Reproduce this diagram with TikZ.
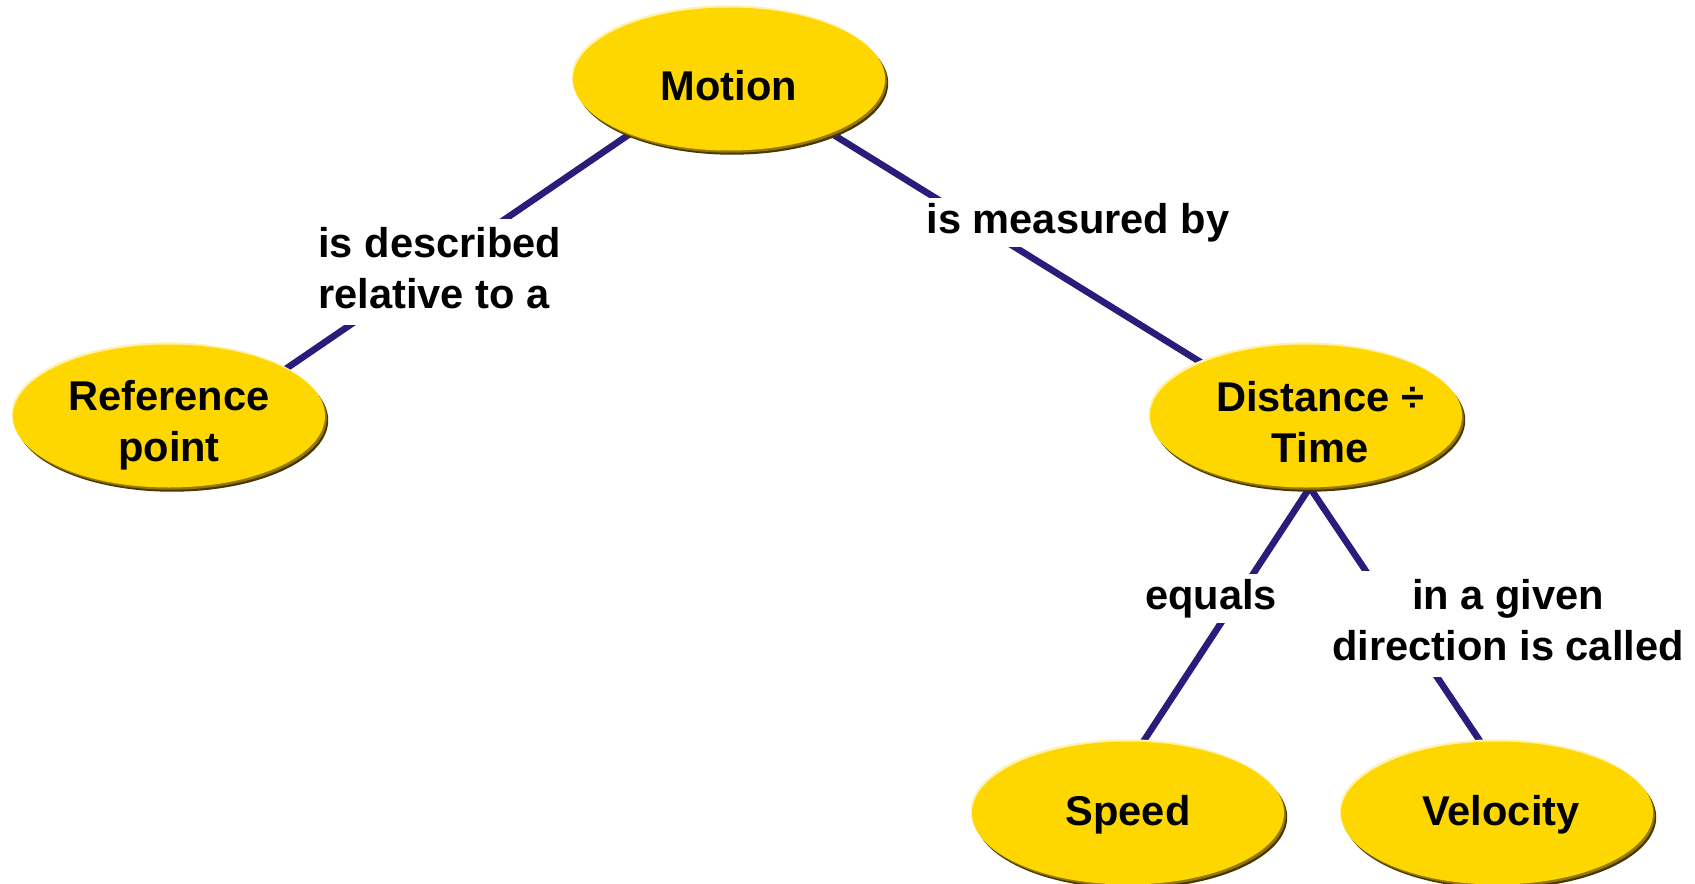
\documentclass[tikz,border=0pt]{standalone}
\usepackage{fontspec}
\setmainfont{Liberation Sans}
\usetikzlibrary{shapes.geometric,backgrounds}
\definecolor{gold}{RGB}{255,215,0}
\definecolor{edgedark}{RGB}{70,56,0}
\definecolor{edgemid}{RGB}{150,120,0}
\definecolor{edgelight}{RGB}{255,242,175}
\definecolor{linkc}{RGB}{43,27,122}
% concept text: #1 = baseline of first line relative to centre, #2 = horizontal offset (doubled)
\newcommand\ctxt[3]{\raisebox{#1}[0pt][0pt]{\makebox[0pt][c]{\hspace*{#2}\begin{tabular}[t]{@{}c@{}}#3\end{tabular}}}}
\begin{document}
\begin{tikzpicture}[x=0.5pt,y=-0.5pt,
  concept/.style={ellipse, fill=gold, minimum width=156pt, minimum height=71.5pt,
    inner sep=0pt, outer sep=0pt, text=black,
    font=\fontsize{20.8}{25.5}\selectfont\bfseries,
    preaction={fill=edgedark, transform canvas={shift={(1.6pt,-2.1pt)}}},
    preaction={fill=edgemid, transform canvas={shift={(0.9pt,-1.1pt)}}},
    preaction={fill=edgelight, transform canvas={shift={(-0.7pt,1.1pt)}}}},
  linklabel/.style={fill=white, inner xsep=2.5pt, inner ysep=2.5pt, text=black,
    font=\fontsize{20.8}{25.5}\selectfont\bfseries},
  link/.style={draw=linkc, line width=3.3pt, shorten <=-8pt, shorten >=-8pt}]
\useasboundingbox (0,0) rectangle (1695,883);
\clip (0,0) rectangle (1695,883);
\node[concept] (motion) at (729,79) {\ctxt{-10.8pt}{0pt}{Motion}};
\node[concept] (ref) at (169,416) {\ctxt{3pt}{0pt}{Reference\\point}};
\node[concept] (dist) at (1306,416) {\ctxt{2.5pt}{14pt}{Distance ÷\\Time}};
\node[concept] (speed) at (1128,813) {\ctxt{-6pt}{0pt}{Speed}};
\node[concept] (vel) at (1497,813) {\ctxt{-6pt}{4pt}{Velocity}};
\node[linklabel, inner ysep=1pt, anchor=base west] (l1) at (313,257)
  {\begin{tabular}[t]{@{}l@{}}is described\\relative to a\end{tabular}};
\node[linklabel, anchor=base] (l2) at (1078,233) {is measured by};
\node[linklabel, anchor=base] (l3) at (1211,609) {equals};
\node[linklabel, inner ysep=1pt, anchor=base] (l4) at (1508,609)
  {\begin{tabular}[t]{@{}c@{}}in a given\\direction is called\end{tabular}};
\begin{pgfonlayer}{background}
\draw[link] (motion.209) -- (ref.22);
\draw[link] (motion.332) -- (dist.153);
\draw[link] (dist.273) -- (speed.78);
\draw[link] (dist.273) -- (vel.103);
\end{pgfonlayer}
\end{tikzpicture}
\end{document}
